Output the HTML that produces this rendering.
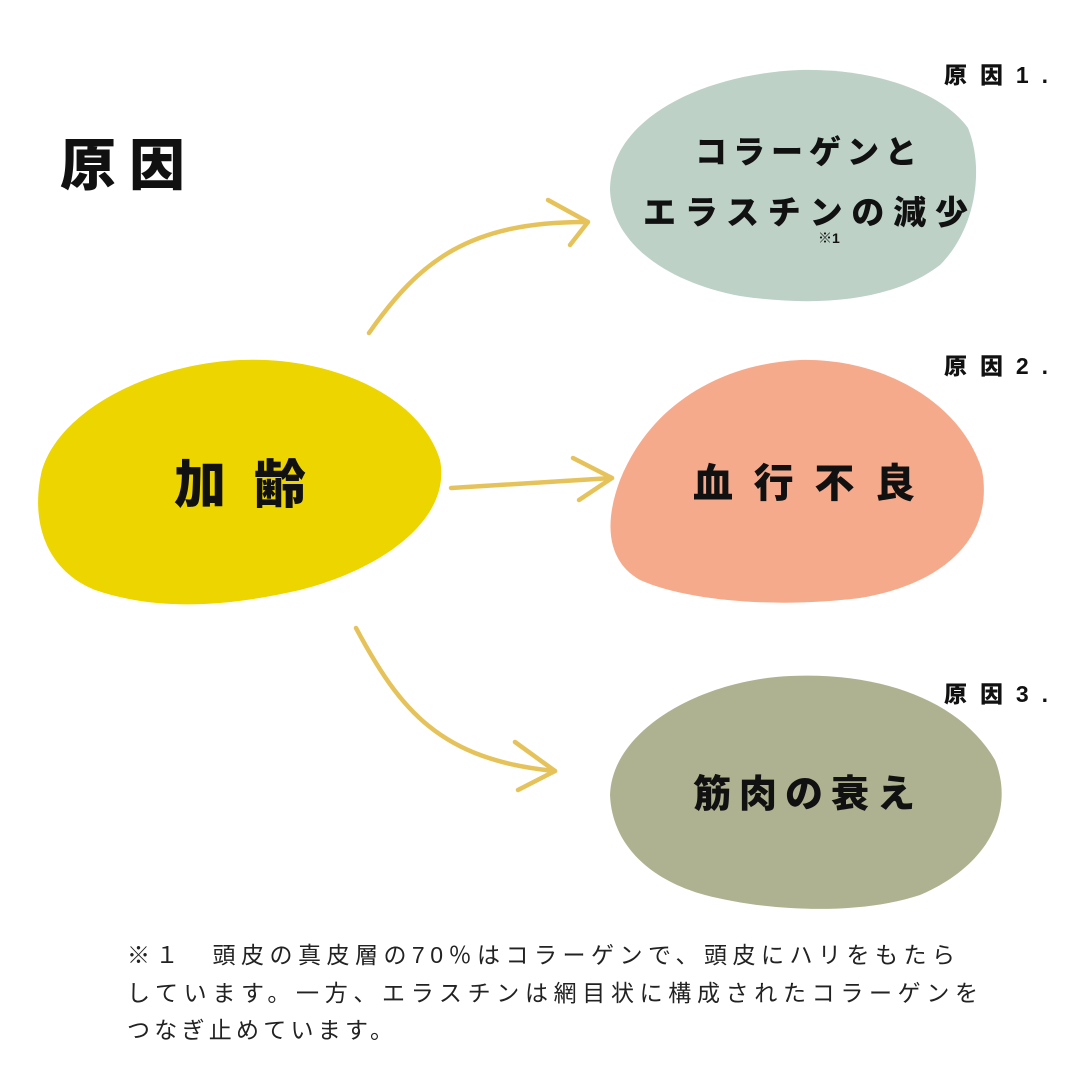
<!DOCTYPE html>
<html><head><meta charset="utf-8"><style>
html,body{margin:0;padding:0;background:#fff;}
svg{display:block;}
.b{font-family:"Liberation Sans","Noto Sans CJK JP",sans-serif;font-weight:900;fill:#111;}
.c{font-family:"Liberation Sans","Noto Sans CJK JP",sans-serif;font-weight:400;fill:#222;font-size:23px;}
</style></head><body>
<svg width="1080" height="1080" viewBox="0 0 1080 1080" xmlns="http://www.w3.org/2000/svg">
<rect width="1080" height="1080" fill="#fff"/>
<!-- blobs -->
<path d="M240 360 C330 356 420 395 440 460 C452 520 380 570 300 590 C230 606 160 612 95 590 C45 570 30 520 42 470 C60 410 150 364 240 360 Z" fill="#EDD500"/>
<path d="M800 70 C880 68 945 95 968 128 C985 170 975 230 940 265 C895 300 820 308 740 296 C670 283 612 245 610 190 C610 120 700 74 800 70 Z" fill="#BDD1C7"/>
<path d="M800 360 C880 358 960 400 982 470 C995 540 940 585 860 598 C780 608 690 602 640 580 C605 560 605 520 620 480 C650 405 720 364 800 360 Z" fill="#F6AA8C"/>
<path d="M790 676 C880 672 960 700 995 760 C1015 810 990 865 920 895 C860 915 770 912 705 895 C650 880 612 845 610 795 C612 730 700 680 790 676 Z" fill="#AFB291"/>
<!-- arrows -->
<g fill="none" stroke="#E5C35A" stroke-width="4.5" stroke-linecap="round" stroke-linejoin="round">
<path d="M369 333 C420 260 470 222 585 222"/>
<path d="M548 200 L588 222 L570 245"/>
<path d="M451 488 L612 478"/>
<path d="M573 458 L612 478 L579 500"/>
<path d="M356 628 C400 710 440 760 555 771"/>
<path d="M515 742 L555 771 L518 790"/>
</g>
<!-- texts -->
<text class="b" x="60" y="185" font-size="56" textLength="125" lengthAdjust="spacing">原因</text>
<text class="b" x="174" y="503" font-size="52" textLength="132" lengthAdjust="spacing">加齢</text>
<text class="b" x="944" y="83" font-size="23" textLength="104" lengthAdjust="spacing">原因1.</text>
<text class="b" x="944" y="374" font-size="23" textLength="104" lengthAdjust="spacing">原因2.</text>
<text class="b" x="944" y="702" font-size="23" textLength="104" lengthAdjust="spacing">原因3.</text>
<text class="b" x="695" y="163" font-size="32" textLength="222" lengthAdjust="spacing">コラーゲンと</text>
<text class="b" x="643" y="224" font-size="33" textLength="325" lengthAdjust="spacing">エラスチンの減少</text>
<text class="b" x="818" y="243" font-size="14">※1</text>
<text class="b" x="693" y="497" font-size="40" textLength="222" lengthAdjust="spacing">血行不良</text>
<text class="b" x="693" y="807" font-size="38" textLength="222" lengthAdjust="spacing">筋肉の衰え</text>
<text class="c" x="127" y="963" textLength="828" lengthAdjust="spacing">※１　頭皮の真皮層の70％はコラーゲンで、頭皮にハリをもたら</text>
<text class="c" x="127" y="1001" textLength="851" lengthAdjust="spacing">しています。一方、エラスチンは網目状に構成されたコラーゲンを</text>
<text class="c" x="127" y="1038" textLength="266" lengthAdjust="spacing">つなぎ止めています。</text>
</svg>
</body></html>
